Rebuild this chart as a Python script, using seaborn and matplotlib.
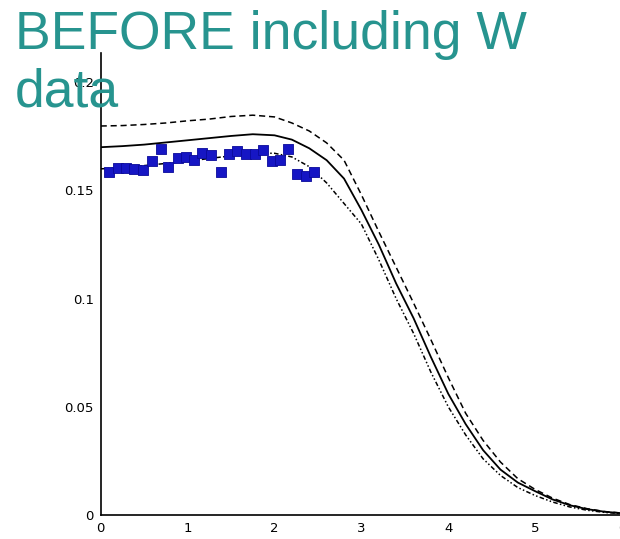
import matplotlib
matplotlib.use("Agg")
import matplotlib.pyplot as plt
from matplotlib.ticker import MultipleLocator
import seaborn as sns
import pandas as pd

# ---- data ----
curve_x = [0.0, 0.25, 0.5, 0.75, 1.0, 1.25, 1.5, 1.75, 2.0, 2.2, 2.4, 2.6, 2.8,
           3.0, 3.2, 3.4, 3.6, 3.8, 4.0, 4.2, 4.4, 4.6, 4.8, 5.0, 5.2, 5.4,
           5.6, 5.8, 6.0]
central = [0.1700, 0.1705, 0.1712, 0.1722, 0.1732, 0.1742, 0.1752, 0.1760,
           0.1755, 0.1735, 0.1695, 0.1640, 0.1555, 0.1410, 0.1250, 0.1070,
           0.0910, 0.0730, 0.0560, 0.0420, 0.0300, 0.0210, 0.0150, 0.0110,
           0.0072, 0.0045, 0.0027, 0.0015, 0.0008]
upper = [0.1798, 0.1800, 0.1805, 0.1812, 0.1822, 0.1830, 0.1842, 0.1848,
         0.1840, 0.1812, 0.1775, 0.1720, 0.1640, 0.1480, 0.1310, 0.1145,
         0.0980, 0.0810, 0.0635, 0.0470, 0.0345, 0.0245, 0.0168, 0.0118,
         0.0078, 0.0048, 0.0029, 0.0016, 0.0009]
lower = [0.1600, 0.1605, 0.1615, 0.1625, 0.1635, 0.1648, 0.1660, 0.1672,
         0.1672, 0.1655, 0.1610, 0.1535, 0.1440, 0.1345, 0.1180, 0.1000,
         0.0840, 0.0660, 0.0500, 0.0370, 0.0260, 0.0183, 0.0127, 0.0090,
         0.0060, 0.0037, 0.0022, 0.0012, 0.0006]

data_x = [0.09, 0.195, 0.29, 0.386, 0.49, 0.59, 0.69, 0.78, 0.885, 0.98,
          1.076, 1.17, 1.27, 1.38, 1.48, 1.57, 1.67, 1.77, 1.87, 1.97,
          2.06, 2.16, 2.26, 2.36, 2.455]
data_y = [0.1586, 0.1604, 0.1606, 0.1600, 0.1594, 0.1634, 0.1694, 0.1609,
          0.1650, 0.1655, 0.1643, 0.1673, 0.1666, 0.1586, 0.1670, 0.1681,
          0.1670, 0.1670, 0.1689, 0.1637, 0.1640, 0.1690, 0.1578, 0.1566,
          0.1586]

x_ticks = [0, 1, 2, 3, 4, 5, 6]
y_ticks = [0, 0.05, 0.1, 0.15, 0.2]
y_tick_labels = ["0", "0.05", "0.1", "0.15", "0.2"]
title_text = "BEFORE including W\ndata"

curves = pd.DataFrame({"x": curve_x, "central": central,
                       "upper": upper, "lower": lower})
points = pd.DataFrame({"x": data_x, "y": data_y})

sns.set_style("white")
plt.rcParams["font.family"] = ["DejaVu Sans"]

fig = plt.figure(figsize=(6.2, 5.39), dpi=100)
ax = fig.add_axes([0.1624, 0.0445, 0.841, 0.857])

sns.lineplot(data=curves, x="x", y="upper", ax=ax, color="black",
             linewidth=1.1, linestyle=(0, (4, 2.5)))
sns.lineplot(data=curves, x="x", y="central", ax=ax, color="black",
             linewidth=1.3, linestyle="-")
sns.lineplot(data=curves, x="x", y="lower", ax=ax, color="black",
             linewidth=1.1, linestyle=(0, (3, 1.5, 1, 1.5, 1, 1.5)))
sns.scatterplot(data=points, x="x", y="y", ax=ax, color="#1616c4",
                marker="s", s=42, edgecolor="#0a0a9a", linewidth=0.6,
                zorder=5)

ax.set_xlim(0, 6)
ax.set_ylim(0, 0.2135)
ax.set_xlabel("")
ax.set_ylabel("")
ax.set_xticks(x_ticks)
ax.set_xticklabels([str(t) for t in x_ticks])
ax.set_yticks(y_ticks)
ax.set_yticklabels(y_tick_labels)
ax.xaxis.set_minor_locator(MultipleLocator(0.2))
ax.yaxis.set_minor_locator(MultipleLocator(0.01))
ax.tick_params(axis="both", which="major", direction="in", length=10,
               width=1.0, color="black", labelsize=9.5, labelcolor="black",
               pad=5)
ax.tick_params(axis="both", which="minor", direction="in", length=5,
               width=1.0, color="black")
for side in ["top", "right"]:
    ax.spines[side].set_visible(False)
for side in ["left", "bottom"]:
    ax.spines[side].set_color("black")
    ax.spines[side].set_linewidth(1.2)

fig.text(0.024, 0.982, title_text, ha="left", va="top", color="#27948f",
         fontsize=38.5, family=["Liberation Sans", "DejaVu Sans"],
         linespacing=1.2, zorder=10)

fig.savefig("out.png", dpi=100, facecolor="white")
